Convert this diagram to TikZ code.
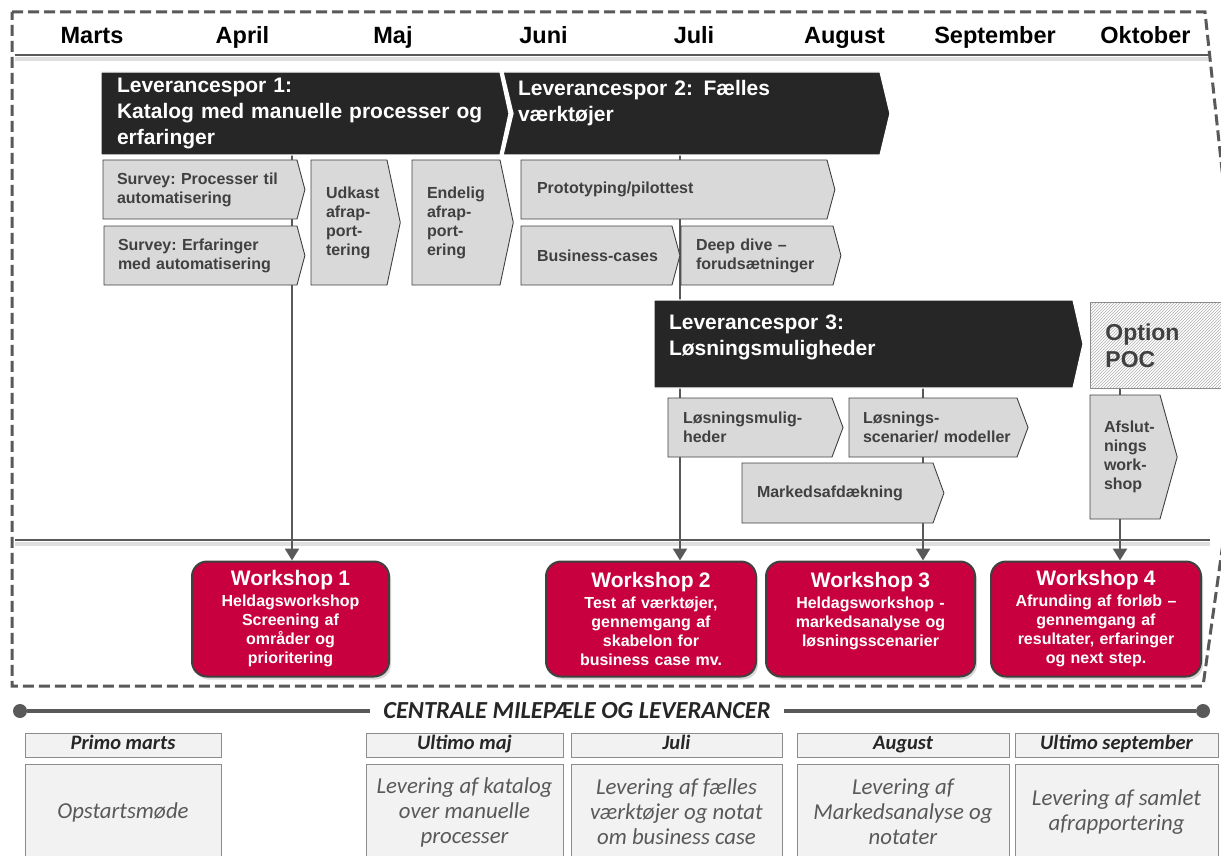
\documentclass[tikz,border=0pt]{standalone}
\usepackage{fontspec}
\setmainfont{Liberation Sans}
\newfontfamily\milefont{Carlito}
\usepackage{tikz}
\usetikzlibrary{positioning, arrows.meta, shapes.symbols, shadows, patterns, backgrounds}
\definecolor{sporgr}{HTML}{262626}
\definecolor{trinfill}{HTML}{D9D9D9}
\definecolor{kant}{HTML}{404040}
\definecolor{streg}{HTML}{595959}
\definecolor{wsrod}{HTML}{C8003F}
\definecolor{milefill}{HTML}{F2F2F2}
\definecolor{milekant}{HTML}{8C8C8C}
\hyphenpenalty=10000
\exhyphenpenalty=10000

\begin{document}
\begin{tikzpicture}[x=1pt, y=-1pt,
		maaned/.style={
			anchor=base,
			font=\bfseries\fontsize{23.5}{27}\selectfont
		},
		spor/.style={
			signal,
			signal to=east,
			fill=sporgr,
			draw=white,
			line width=1.2pt,
			text=white,
			align=left,
			inner ysep=0pt,
			outer sep=0pt,
			font=\bfseries\fontsize{21}{26}\selectfont
		},
		trin/.style={
			signal,
			signal to=east,
			fill=trinfill,
			draw=kant,
			line width=0.9pt,
			text=kant,
			align=left,
			inner ysep=0pt,
			outer sep=0pt,
			font=\bfseries\fontsize{16}{19}\selectfont
		},
		workshop/.style={
			rectangle,
			rounded corners=15pt,
			fill=wsrod,
			draw=kant,
			line width=2pt,
			text=white,
			align=center,
			minimum height=115pt,
			font=\bfseries\fontsize{16}{19}\selectfont,
			drop shadow={shadow xshift=2pt, shadow yshift=-3pt, opacity=0.3}
		},
		pil/.style={
			-{Triangle[width=14pt, length=12pt]},
			draw=streg,
			line width=2.5pt
		},
		milehoved/.style={
			rectangle,
			draw=milekant,
			fill=milefill,
			line width=0.8pt,
			text=sporgr,
			minimum height=24pt,
			inner sep=0pt,
			text height=13pt,
			text depth=4pt,
			font=\milefont\bfseries\itshape\fontsize{20.5}{22}\selectfont
		},
		milekrop/.style={
			rectangle,
			draw=milekant,
			fill=milefill,
			line width=0.8pt,
			text=streg,
			align=center,
			minimum height=96pt,
			inner sep=0pt,
			font=\milefont\itshape\fontsize{22.8}{25}\selectfont
		},
		prik/.style={
			circle,
			fill=streg,
			minimum size=14pt,
			inner sep=0pt
		}
		]
		\useasboundingbox (0,0) rectangle (1221,856);
		% Months
		\foreach \m [count=\i] in {Marts,April,Maj,Juni,Juli,August,September,Oktober}
		\node[maaned] (m\i) at ({92+150.5*(\i-1)},44) {\m};
		% Deliverable tracks
		\node[spor, signal pointer angle=155.5, text width=367pt, inner xsep=16pt, minimum height=83pt]
		(ls1) at (300.5,113.5)
		{Leverancespor 1:\\Katalog med manuelle processer og\\erfaringer};
		\node[spor, signal from=west, signal pointer angle=153, text width=357pt, inner xsep=5pt, minimum height=83pt]
		(ls2) at (696.5,113.5)
		{Leverancespor 2: Fælles\\værktøjer\\ \mbox{}};
		\node[spor, signal pointer angle=154.4, text width=389pt, inner xsep=15pt, minimum height=88pt]
		(ls3) at (863.5,344)
		{Leverancespor 3:\\Løsningsmuligheder\\[-8pt] \mbox{}};
		\node[rectangle, anchor=north west, draw=milekant, line width=0.8pt,
		preaction={fill=white}, pattern=north east lines, pattern color=black!30,
		minimum width=145pt, minimum height=86pt, inner xsep=15pt, text width=115pt,
		align=left, text=kant, font=\bfseries\fontsize{23}{27}\selectfont]
		(poc) at (1090,302)
		{Option\\POC};
		% Steps
		\node[trin, signal pointer angle=150, text width=166pt, inner xsep=14pt, minimum height=59pt]
		(surv1) at (200,189.5)
		{Survey:~Processer~til\\automatisering};
		\node[trin, signal pointer angle=150, text width=165pt, inner xsep=14pt, minimum height=59pt]
		(surv2) at (200.5,255.5)
		{Survey:~Erfaringer\\med~automatisering};
		\node[trin, signal pointer angle=156, text width=46pt, inner xsep=15pt, minimum height=125pt]
		(udkast) at (349,222.5)
		{Udkast\\afrap-\\port-\\tering};
		\node[trin, signal pointer angle=156, text width=58pt, inner xsep=15pt, minimum height=125pt]
		(endelig) at (456,222.5)
		{Endelig\\afrap-\\port-\\ering};
		\node[trin, signal pointer angle=150, text width=274pt, inner xsep=16pt, minimum height=59pt]
		(proto) at (674,189.5)
		{Prototyping/pilottest};
		\node[trin, signal pointer angle=150, text width=119pt, inner xsep=16pt, minimum height=59pt]
		(bcase) at (596.5,255.5)
		{Business-cases};
		\node[trin, signal pointer angle=150, text width=122pt, inner xsep=15pt, minimum height=59pt]
		(deep) at (757,255.5)
		{Deep~dive~–\\forudsætninger};
		\node[trin, signal pointer angle=139, text width=134pt, inner xsep=15pt, minimum height=59pt]
		(lmul) at (750,427.5)
		{Løsningsmulig-\\heder};
		\node[trin, signal pointer angle=139, text width=140pt, inner xsep=14pt, minimum height=59pt]
		(lscen) at (933,427.5)
		{Løsnings-\\scenarier/~modeller};
		\node[trin, signal pointer angle=140, text width=161pt, inner xsep=15pt, minimum height=60pt]
		(marked) at (837.5,493)
		{Markedsafdækning};
		\node[trin, signal pointer angle=149, text width=42pt, inner xsep=14pt, minimum height=124pt]
		(afslut) at (1125,457)
		{Afslut-\\nings\\work-\\shop};
		% Workshops
		\node[workshop, minimum width=197pt, text width=185pt] (ws1) at (290.5,619)
		{{\fontsize{21}{24}\selectfont Workshop 1}\\[2pt]Heldagsworkshop\\Screening af\\områder og\\prioritering};
		\node[workshop, minimum width=210pt, text width=198pt] (ws2) at (651,619)
		{{\fontsize{21}{24}\selectfont Workshop 2}\\[2pt]Test af værktøjer,\\gennemgang af\\skabelon for\\business case mv.};
		\node[workshop, minimum width=209pt, text width=197pt] (ws3) at (870.5,619)
		{{\fontsize{21}{24}\selectfont Workshop 3}\\[2pt]Heldagsworkshop -\\markedsanalyse og\\løsningsscenarier\\ \mbox{}};
		\node[workshop, minimum width=210pt, text width=198pt] (ws4) at (1096,619)
		{{\fontsize{21}{24}\selectfont Workshop 4}\\[2pt]Afrunding af forløb –\\gennemgang af\\resultater, erfaringer\\og next step.};
		% Arrows
		\coordinate (x1) at (292,0);
		\coordinate (x2) at (680,0);
		\coordinate (x3) at (923,0);
		\coordinate (x4) at (1120,0);
		\begin{scope}[on background layer]
			\draw[gray!25, line width=4pt] (15,59) -- (1210,59);
			\draw[streg, line width=2.5pt] (15,55) -- (1210,55);
			\draw[gray!25, line width=4pt] (15,544) -- (1210,544);
			\draw[streg, line width=2.5pt] (15,540) -- (1210,540);
			\draw[pil] (ls1.south -| x1) -- (ws1.north -| x1);
			\draw[pil] (ls2.south -| x2) -- (ws2.north -| x2);
			\draw[pil] (ls3.south -| x3) -- (ws3.north -| x3);
			\draw[pil] (poc.south -| x4) -- (ws4.north -| x4);
		\end{scope}
		% Frame
		\draw[streg, line width=3pt, dash pattern=on 11pt off 5pt]
		(12,12) -- (1205,12) -- (1236,300) -- (1236,450) -- (1203,686) -- (12,686) -- cycle;
		% Milestones
		\node[prik] (p1) at (20,711) {};
		\node[prik] (p2) at (1203,711) {};
		\node[inner xsep=13pt, text=sporgr, font=\milefont\bfseries\itshape\fontsize{24.5}{26}\selectfont]
		(mtitel) at (577,711)
		{CENTRALE MILEPÆLE OG LEVERANCER};
		\draw[streg, line width=3.5pt] (p1) -- (mtitel);
		\draw[streg, line width=3.5pt] (mtitel) -- (p2);
		\node[milehoved, minimum width=196pt] (h1) at (123,745) {Primo marts};
		\node[milehoved, minimum width=197pt] (h2) at (464.5,745) {Ultimo maj};
		\node[milehoved, minimum width=211pt] (h3) at (676.5,745) {Juli};
		\node[milehoved, minimum width=212pt] (h4) at (903,745) {August};
		\node[milehoved, minimum width=203pt] (h5) at (1116.5,745) {Ultimo september};
		\node[milekrop, minimum width=196pt] (b1) at (123,812) {Opstartsmøde};
		\node[milekrop, minimum width=197pt] (b2) at (464.5,812)
		{Levering af katalog\\over manuelle\\processer};
		\node[milekrop, minimum width=211pt] (b3) at (676.5,812)
		{Levering af fælles\\værktøjer og notat\\om business case};
		\node[milekrop, minimum width=212pt] (b4) at (903,812)
		{Levering af\\Markedsanalyse og\\notater};
		\node[milekrop, minimum width=203pt] (b5) at (1116.5,812)
		{Levering af samlet\\afrapportering};
	\end{tikzpicture}
\end{document}
